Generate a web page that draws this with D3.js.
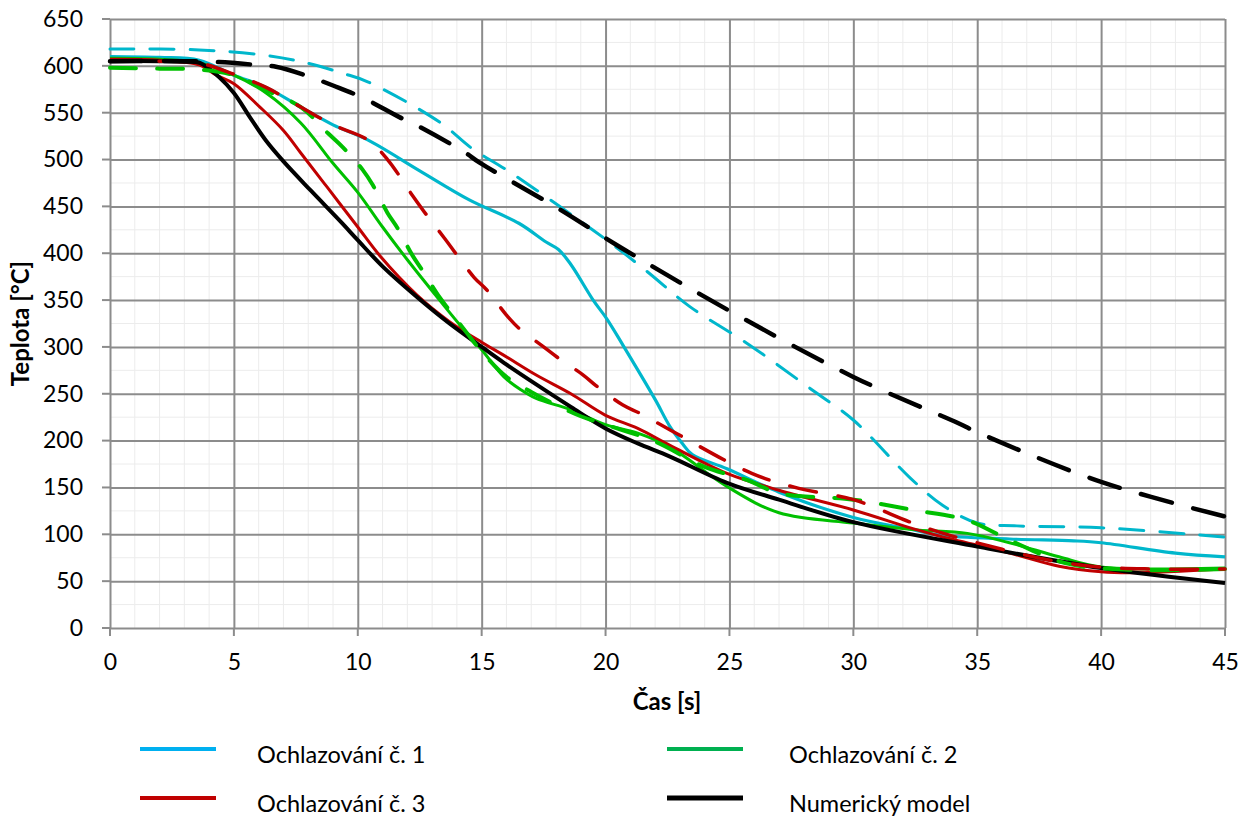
<!DOCTYPE html>
<html>
<head>
<meta charset="utf-8">
<script src="https://cdn.jsdelivr.net/npm/d3@7"></script>
<style>
  body { margin: 0; background: #fff; }
  text { font-family: Lato, "Open Sans", sans-serif; fill: #000; }
  .tick text { font-size: 23px; }
  .title { font-size: 24px; font-weight: bold; }
  .legend text { font-size: 23.5px; }
</style>
</head>
<body>
<svg></svg>
<script>
var width = 1254;
var height = 817;

var margin = {left: 110, top: 19, right: 29, bottom: 189};

// tick values
var xTicks = [0, 5, 10, 15, 20, 25, 30, 35, 40, 45];
var yTicks = [0, 50, 100, 150, 200, 250, 300, 350, 400, 450, 500, 550, 600, 650];

// Ochlazování č. 1
var c1Time = [0, 2, 3.6, 5, 6.3, 7.7, 9, 10.4, 12.5, 14.5, 16.5, 17.6, 18.1, 18.6, 19.5, 20.05, 20.7, 22, 22.6, 23.1, 23.5, 24.9, 27, 30, 32.4, 33.5, 36.3, 38.9, 40, 43, 45];
var c1Temp = [610, 609, 606, 590, 577, 556, 537, 521, 488, 457, 432, 412, 404, 388, 350, 330, 302, 244, 215, 197, 185, 170, 145, 118, 105, 99, 95, 93, 91, 80, 76];
// Ochlazování č. 1 (dashed)
var c1dTime = [0, 3.6, 6.05, 7.8, 9.4, 10.4, 13.3, 14.6, 16, 18.2, 20.2, 21.7, 23.4, 25.7, 28.5, 30, 32.3, 33.6, 35, 36.6, 40, 45];
var c1dTemp = [618, 617, 612, 604, 592, 583, 540, 512, 489, 449, 411, 380, 343, 304, 251, 222, 160, 131, 112, 109, 107, 97];

// Ochlazování č. 2
var c2Time = [0, 2, 3.6, 5, 6.3, 7.7, 9, 10, 11, 12, 13.3, 14.2, 15, 15.9, 16.6, 17.2, 18.6, 20, 21.3, 22.6, 24.9, 27, 30, 32.4, 34.6, 36.3, 38.3, 40, 45];
var c2Temp = [608, 607, 603, 590, 571, 539, 496, 465, 428, 393, 350, 321, 297, 268, 254, 245, 233, 217, 208, 193, 151, 123, 112, 105, 101, 91, 76, 65, 64];
var c2dTime = [0, 2, 3.6, 5, 6.3, 7.7, 8.8, 9.4, 10.2, 10.6, 11.2, 11.6, 12.2, 12.6, 13.3, 13.7, 14.4, 15, 16, 17, 18, 19, 20, 22, 24, 25.7, 27, 30, 32.4, 34.6, 36.3, 38.6, 41.3, 45];
var c2dTemp = [598, 597, 596, 590, 574, 556, 528, 513, 489, 473, 443, 427, 398, 382, 353, 339, 315, 295, 268, 252, 238, 226, 217, 199, 172, 158, 144, 137, 126, 115, 94, 69, 62, 63];

// Ochlazování č. 3
var c3Time = [0, 2, 3.6, 4.3, 5, 6.05, 7, 7.7, 8.75, 10, 10.9, 12.4, 13.7, 15, 15.9, 17.2, 18.6, 20, 21.3, 22.6, 24.9, 27, 30, 32.4, 33.5, 36.3, 38.3, 40, 41.3, 45];
var c3Temp = [607, 606, 601, 590, 581, 556, 531, 507, 471, 428, 397, 355, 327, 305, 291, 270, 250, 227, 213, 195, 165, 147, 126, 106, 98, 80, 66, 60, 59, 63];
var c3dTime = [0, 2, 3.6, 5, 6.3, 7.7, 9, 10.4, 11.2, 12.2, 12.8, 13.5, 14.7, 15.2, 16, 16.5, 17.5, 18.1, 19.1, 19.6, 20.7, 21.4, 22.5, 25.9, 27.8, 30, 32.3, 33.5, 36, 38, 40, 42, 45];
var c3dTemp = [605, 605, 603, 591, 577, 556, 537, 521, 500, 462, 440, 416, 374, 361, 334, 320, 300, 288, 270, 259, 238, 229, 213, 165, 149, 137, 113, 102, 84, 72, 65, 63, 63];

// Numerický model
var numTime = [0, 2, 3, 3.65, 4.4, 5, 5.65, 6.3, 7, 8.1, 9.3, 10, 11, 12.4, 13.7, 15, 15.9, 17.2, 18.6, 20, 21.3, 22.6, 24.9, 27, 30, 35, 40, 45];
var numTemp = [605, 605, 604.5, 603, 588, 571, 545, 520, 498, 467, 434, 414, 386, 353, 325, 300, 283, 260, 236, 213, 197, 183, 155, 137, 113, 87, 64, 48];
var numdTime = [0, 3, 4.4, 5.9, 6.7, 8.1, 9, 10.2, 11.7, 12.2, 14.3, 14.9, 18.2, 20, 21.7, 24.7, 30, 34.2, 35, 40, 45];
var numdTemp = [605, 605, 604, 601, 599, 588, 579, 566, 545, 539, 508, 497, 446, 416, 389, 343, 268, 219, 209, 156, 119];

var legendNames = ["Ochlazování č. 1", "Ochlazování č. 2", "Ochlazování č. 3", "Numerický model"];
var legendColors = ["#00b0f0", "#00b050", "#c00000", "#000000"];

var series = [
  {t: c1Time, v: c1Temp, color: "#00b7cc", w: 3.2, dash: null},
  {t: c2Time, v: c2Temp, color: "#00c000", w: 3, dash: null},
  {t: c3Time, v: c3Temp, color: "#c00000", w: 3, dash: null},
  {t: numTime, v: numTemp, color: "#000000", w: 4, dash: null},
  {t: c1dTime, v: c1dTemp, color: "#00b7cc", w: 3, dash: "24,16"},
  {t: c2dTime, v: c2dTemp, color: "#00c000", w: 4, dash: "26,21"},
  {t: c3dTime, v: c3dTemp, color: "#c00000", w: 3.5, dash: "27,22"},
  {t: numdTime, v: numdTemp, color: "#000000", w: 4.5, dash: "32,22"}
];

var svg = d3.select("svg")
  .attr("width", width)
  .attr("height", height);

var x = d3.scaleLinear()
  .domain([0, 45])
  .range([margin.left, width - margin.right]);

var y = d3.scaleLinear()
  .domain([0, 650])
  .range([height - margin.bottom, margin.top]);

// minor grid
svg.append("g")
  .selectAll("line")
  .data(d3.range(0, 46, 1).filter(d => d % 5 != 0))
  .join("line")
  .attr("x1", d => x(d)).attr("x2", d => x(d))
  .attr("y1", y(0)).attr("y2", y(650))
  .attr("stroke", "#ececec").attr("stroke-width", 1);

svg.append("g")
  .selectAll("line")
  .data(d3.range(25, 650, 50))
  .join("line")
  .attr("x1", x(0)).attr("x2", x(45))
  .attr("y1", d => y(d)).attr("y2", d => y(d))
  .attr("stroke", "#ececec").attr("stroke-width", 1);

// major grid + labels via axes
var yAxis = d3.axisLeft(y)
  .tickValues(yTicks)
  .tickSizeInner(-(x(45) - x(0)))
  .tickSizeOuter(0)
  .tickPadding(27);

var yG = svg.append("g")
  .attr("transform", "translate(" + x(0) + ",0)")
  .call(yAxis);

var xAxis = d3.axisBottom(x)
  .tickValues(xTicks)
  .tickSizeInner(-(y(0) - y(650)))
  .tickSizeOuter(0)
  .tickPadding(26);

var xG = svg.append("g")
  .attr("transform", "translate(0," + y(0) + ")")
  .call(xAxis);

[xG, yG].forEach(g => {
  g.select(".domain").remove();
  g.selectAll(".tick line").attr("stroke", "#8c8c8c").attr("stroke-width", 2);
});

// small outside tick marks
svg.append("g")
  .selectAll("line")
  .data(yTicks)
  .join("line")
  .attr("x1", x(0) - 8).attr("x2", x(0))
  .attr("y1", d => y(d)).attr("y2", d => y(d))
  .attr("stroke", "#8c8c8c").attr("stroke-width", 2);

svg.append("g")
  .selectAll("line")
  .data(xTicks)
  .join("line")
  .attr("x1", d => x(d)).attr("x2", d => x(d))
  .attr("y1", y(0)).attr("y2", y(0) + 8)
  .attr("stroke", "#8c8c8c").attr("stroke-width", 2);

// axis titles
svg.append("text")
  .attr("class", "title")
  .attr("x", 667)
  .attr("y", 710)
  .attr("text-anchor", "middle")
  .text("Čas [s]");

svg.append("text")
  .attr("class", "title")
  .attr("transform", "translate(29," + ((y(0) + y(650)) / 2) + ") rotate(-90)")
  .attr("text-anchor", "middle")
  .text("Teplota [°C]");

// lines
var line = d3.line()
  .x(d => x(d[0]))
  .y(d => y(d[1]))
  .curve(d3.curveCatmullRom.alpha(0.5));

svg.append("g")
  .selectAll("path")
  .data(series)
  .join("path")
  .attr("d", s => line(s.t.map((t, i) => [t, s.v[i]])))
  .attr("fill", "none")
  .attr("stroke", s => s.color)
  .attr("stroke-width", s => s.w)
  .attr("stroke-linecap", s => s.dash ? "round" : "butt")
  .attr("stroke-linejoin", "round")
  .attr("stroke-dasharray", s => s.dash);

// legend
var legendPos = [[140, 749], [667, 749], [140, 798], [667, 798]];

var legend = svg.append("g").attr("class", "legend");
var items = legend.selectAll("g")
  .data(legendNames)
  .join("g")
  .attr("transform", (d, i) => "translate(" + legendPos[i][0] + "," + legendPos[i][1] + ")");

items.append("line")
  .attr("x1", 0).attr("x2", 76)
  .attr("stroke", (d, i) => legendColors[i])
  .attr("stroke-width", (d, i) => i == 3 ? 5 : 4);

items.append("text")
  .attr("x", (d, i) => i % 2 == 0 ? 117 : 122)
  .attr("y", 14)
  .text(d => d);
</script>
</body>
</html>
